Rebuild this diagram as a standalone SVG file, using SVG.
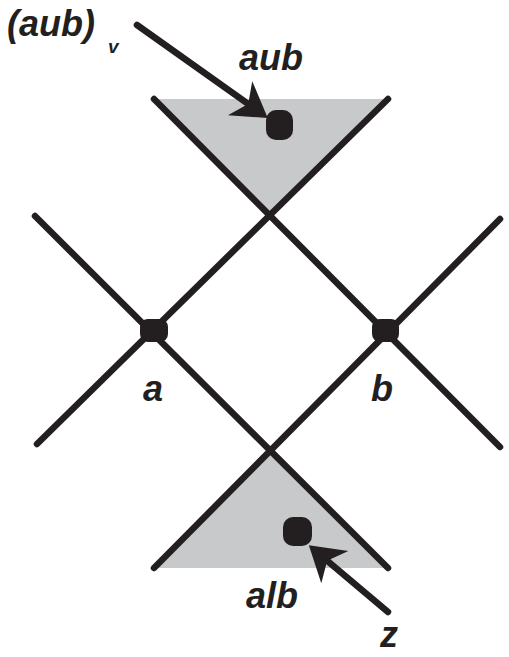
<svg xmlns="http://www.w3.org/2000/svg" width="509" height="657" viewBox="0 0 509 657">
<style>
.ln{stroke:#231f20;stroke-width:6.5;stroke-linecap:round;fill:none}
.ar{stroke:#231f20;stroke-width:6.5;stroke-linecap:round;fill:none;marker-end:url(#ah)}
.tri{fill:#c8c9cb;stroke:none}
.dot{fill:#231f20}
.lb{font-family:"Liberation Sans",Arial,sans-serif;font-weight:bold;font-style:italic;font-size:36px;fill:#231f20}
.sm{font-size:19px}
</style>
<defs>
<marker id="ah" markerUnits="userSpaceOnUse" viewBox="-26 -24 40 48" markerWidth="40" markerHeight="48" refX="0" refY="0" orient="auto">
<path d="M12,0 L-22,-21 L-12,0 L-22,21 Z" fill="#231f20"/>
</marker>
</defs>
<g id="upper-region">
<polygon class="tri" points="154,99 388,99 271,215"/>
</g>
<g id="lower-region">
<polygon class="tri" points="154,568 388,568 271,451"/>
</g>
<g id="connectors">
<line class="ln" x1="35" y1="216" x2="388" y2="568"/>
<line class="ln" x1="388" y1="99" x2="37" y2="444"/>
<line class="ln" x1="154" y1="99" x2="500" y2="447"/>
<line class="ln" x1="154" y1="568" x2="500" y2="219"/>
<line class="ar" x1="137" y1="25" x2="258" y2="111"/>
<line class="ar" x1="388" y1="612" x2="318" y2="553"/>
</g>
<g id="node-a">
<rect class="dot" x="140" y="319" width="28" height="23" rx="8"/>
<text class="lb" x="143" y="401">a</text>
</g>
<g id="node-b">
<rect class="dot" x="372" y="319" width="27" height="23" rx="8"/>
<text class="lb" x="371" y="401">b</text>
</g>
<g id="node-aub">
<rect class="dot" x="266" y="110" width="27" height="30" rx="10"/>
<text class="lb" x="239" y="70">aub</text>
</g>
<g id="node-alb">
<rect class="dot" x="283" y="517" width="29" height="29" rx="10"/>
<text class="lb" x="246" y="608">alb</text>
</g>
<g id="node-aubv">
<text class="lb" x="7" y="36">(aub)</text>
<text class="lb sm" x="108" y="53">v</text>
</g>
<g id="node-z">
<text class="lb" x="380" y="647">z</text>
</g>
</svg>
